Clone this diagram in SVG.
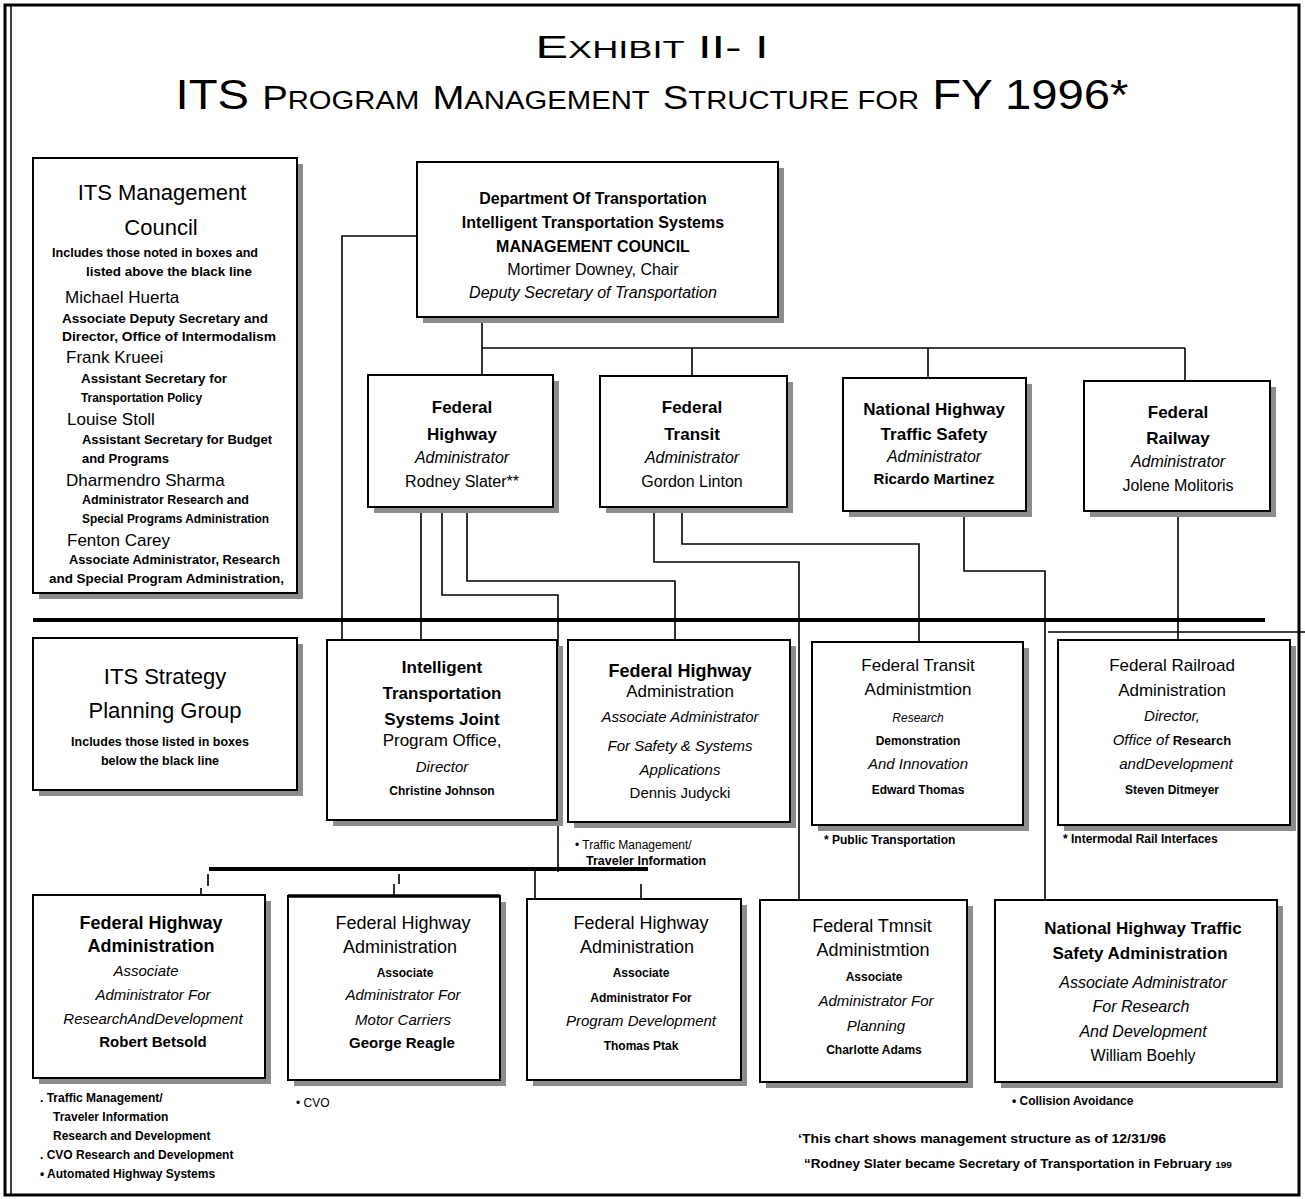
<svg xmlns="http://www.w3.org/2000/svg" width="1305" height="1199" viewBox="0 0 1305 1199">
<style>
text{font-family:"Liberation Sans",Arial,sans-serif;fill:#000}
.c{text-anchor:middle}
.b{font-weight:bold}
.i{font-style:italic}
.box{fill:#fff;stroke:#000;stroke-width:2}
.sh{fill:#8c8c8c}
.ln{fill:none;stroke:#000;stroke-width:1.6}
.bar{fill:none;stroke:#000;stroke-width:4}
.h17{font-size:17px}
.h18{font-size:18px}
.h22{font-size:22px}
.s12{font-size:12px}
.s11{font-size:12.5px}
.s15{font-size:15px}
.s16{font-size:16px}
</style>
<rect x="0" y="0" width="1305" height="1199" fill="#fff"/>
<g id="frame">
<rect x="5" y="5" width="1294" height="1190" fill="none" stroke="#000" stroke-width="3"/>
<line x1="11" y1="5" x2="11" y2="1195" stroke="#000" stroke-width="1.5"/>
</g>
<g id="title">
<text class="c" x="652" y="58" font-size="31" textLength="233" lengthAdjust="spacingAndGlyphs">E<tspan font-size="23">XHIBIT</tspan> II- I</text>
<text class="c" x="652" y="109" font-size="42" textLength="953" lengthAdjust="spacingAndGlyphs">ITS <tspan font-size="34">P</tspan><tspan font-size="26">ROGRAM</tspan> <tspan font-size="34">M</tspan><tspan font-size="26">ANAGEMENT</tspan> <tspan font-size="34">S</tspan><tspan font-size="26">TRUCTURE FOR</tspan> FY 1996*</text>
</g>
<g id="connectors">
<path class="ln" d="M482 317V375M482 348H1185M692 348V376M928 348V378M1185 348V381"/>
<path class="ln" d="M417 236H342V640"/>
<path class="ln" d="M421 507V640"/>
<path class="ln" d="M442 507V595H558V872"/>
<path class="ln" d="M467 507V581H675V640"/>
<path class="ln" d="M654 507V562H799V900"/>
<path class="ln" d="M682 507V544H919V642"/>
<path class="ln" d="M964 511V571H1045V900"/>
<path class="ln" d="M1178 511V640"/>
<path class="ln" d="M1048 632H1305"/>
<path class="bar" d="M33 620H1265"/>
<path class="bar" d="M209 869H648"/>
<path class="ln" d="M208 874V886M201 888V895M399 874V884M394 884V896M641 884V899M535 869V1075"/>
</g>
<g id="mgmt-council">
<rect class="sh" x="39" y="164" width="264" height="435"/>
<rect class="box" x="33" y="158" width="264" height="435"/>
<text class="c h22" x="162" y="200">ITS Management</text>
<text class="c h22" x="161" y="235">Council</text>
<text class="b s11" x="52" y="257" textLength="206" lengthAdjust="spacingAndGlyphs">Includes those noted in boxes and</text>
<text class="b s11" x="86" y="276" textLength="166" lengthAdjust="spacingAndGlyphs">listed above the black line</text>
<text class="h17" x="65" y="303">Michael  Huerta</text>
<text class="b s11" x="62" y="323" textLength="206" lengthAdjust="spacingAndGlyphs">Associate Deputy  Secretary  and</text>
<text class="b s11" x="62" y="341" textLength="214" lengthAdjust="spacingAndGlyphs">Director, Office of Intermodalism</text>
<text class="h17" x="66" y="363">Frank  Krueei</text>
<text class="b s11" x="81" y="383" textLength="146" lengthAdjust="spacingAndGlyphs">Assistant Secretary for</text>
<text class="b s11" x="81" y="402" textLength="121" lengthAdjust="spacingAndGlyphs">Transportation Policy</text>
<text class="h17" x="67" y="425">Louise Stoll</text>
<text class="b s11" x="82" y="444" textLength="190" lengthAdjust="spacingAndGlyphs">Assistant Secretary for Budget</text>
<text class="b s11" x="82" y="463" textLength="87" lengthAdjust="spacingAndGlyphs">and Programs</text>
<text class="h17" x="66" y="486">Dharmendro  Sharma</text>
<text class="b s11" x="82" y="504" textLength="167" lengthAdjust="spacingAndGlyphs">Administrator  Research  and</text>
<text class="b s11" x="82" y="523" textLength="187" lengthAdjust="spacingAndGlyphs">Special Programs Administration</text>
<text class="h17" x="67" y="546">Fenton  Carey</text>
<text class="b s11" x="69" y="564" textLength="211" lengthAdjust="spacingAndGlyphs">Associate Administrator, Research</text>
<text class="b s11" x="49" y="583" textLength="235" lengthAdjust="spacingAndGlyphs">and Special Program Administration,</text>
</g>
<g id="dot-council">
<rect class="sh" x="423" y="168" width="361" height="155"/>
<rect class="box" x="417" y="162" width="361" height="155"/>
<text class="c b s16" x="593" y="204">Department Of Transportation</text>
<text class="c b s16" x="593" y="228">Intelligent Transportation Systems</text>
<text class="c b s16" x="593" y="252">MANAGEMENT COUNCIL</text>
<text class="c s16" x="593" y="275">Mortimer Downey, Chair</text>
<text class="c i s16" x="593" y="298">Deputy Secretary of Transportation</text>
</g>
<g id="fhwa-admin">
<rect class="sh" x="374" y="381" width="185" height="132"/>
<rect class="box" x="368" y="375" width="185" height="132"/>
<text class="c b h17" x="462" y="413">Federal</text>
<text class="c b h17" x="462" y="440">Highway</text>
<text class="c i s16" x="462" y="463">Administrator</text>
<text class="c s16" x="462" y="487">Rodney Slater**</text>
</g>
<g id="fta-admin">
<rect class="sh" x="606" y="382" width="187" height="131"/>
<rect class="box" x="600" y="376" width="187" height="131"/>
<text class="c b h17" x="692" y="413">Federal</text>
<text class="c b h17" x="692" y="440">Transit</text>
<text class="c i s16" x="692" y="463">Administrator</text>
<text class="c s16" x="692" y="487">Gordon Linton</text>
</g>
<g id="nhtsa-admin">
<rect class="sh" x="849" y="384" width="183" height="133"/>
<rect class="box" x="843" y="378" width="183" height="133"/>
<text class="c b h17" x="934" y="415">National Highway</text>
<text class="c b h17" x="934" y="440">Traffic Safety</text>
<text class="c i s16" x="934" y="462">Administrator</text>
<text class="c b s15" x="934" y="484">Ricardo Martinez</text>
</g>
<g id="fra-admin">
<rect class="sh" x="1090" y="387" width="186" height="130"/>
<rect class="box" x="1084" y="381" width="186" height="130"/>
<text class="c b h17" x="1178" y="418">Federal</text>
<text class="c b h17" x="1178" y="444">Railway</text>
<text class="c i s16" x="1178" y="467">Administrator</text>
<text class="c s16" x="1178" y="491">Jolene Molitoris</text>
</g>
<g id="strategy-group">
<rect class="sh" x="39" y="644" width="264" height="152"/>
<rect class="box" x="33" y="638" width="264" height="152"/>
<text class="c h22" x="165" y="684">ITS Strategy</text>
<text class="c h22" x="165" y="718">Planning  Group</text>
<text class="c b s11" x="160" y="746">Includes those listed in boxes</text>
<text class="c b s11" x="160" y="765">below the black line</text>
</g>
<g id="its-jpo">
<rect class="sh" x="333" y="646" width="230" height="180"/>
<rect class="box" x="327" y="640" width="230" height="180"/>
<text class="c b h17" x="442" y="673">Intelligent</text>
<text class="c b h17" x="442" y="699">Transportation</text>
<text class="c b h17" x="442" y="725">Systems Joint</text>
<text class="c h17" x="442" y="746">Program  Office,</text>
<text class="c i s15" x="442" y="772">Director</text>
<text class="c b s12" x="442" y="795">Christine  Johnson</text>
</g>
<g id="fhwa-safety">
<rect class="sh" x="574" y="646" width="222" height="182"/>
<rect class="box" x="568" y="640" width="222" height="182"/>
<text class="c b h18" x="680" y="677">Federal Highway</text>
<text class="c h17" x="680" y="697">Administration</text>
<text class="c i s15" x="680" y="722">Associate  Administrator</text>
<text class="c i s15" x="680" y="751">For Safety &amp; Systems</text>
<text class="c i s15" x="680" y="775">Applications</text>
<text class="c s15" x="680" y="798">Dennis Judycki</text>
<text x="575" y="849" font-size="12">• Traffic Management/</text>
<text class="b" x="586" y="865" font-size="12.5">Traveler Information</text>
</g>
<g id="fta-research">
<rect class="sh" x="818" y="648" width="211" height="183"/>
<rect class="box" x="812" y="642" width="211" height="183"/>
<text class="c h17" x="918" y="671">Federal  Transit</text>
<text class="c h17" x="918" y="695">Administmtion</text>
<text class="c i s12" x="918" y="722">Research</text>
<text class="c b s12" x="918" y="745">Demonstration</text>
<text class="c i s15" x="918" y="769">And Innovation</text>
<text class="c b s12" x="918" y="794">Edward  Thomas</text>
<text class="b s12" x="824" y="844">* Public Transportation</text>
</g>
<g id="fra-research">
<rect class="sh" x="1064" y="646" width="232" height="185"/>
<rect class="box" x="1058" y="640" width="232" height="185"/>
<text class="c h17" x="1172" y="671">Federal Railroad</text>
<text class="c h17" x="1172" y="696">Administration</text>
<text class="c i s15" x="1172" y="721">Director,</text>
<text class="c s15" x="1172" y="745"><tspan font-style="italic">Office of </tspan><tspan font-weight="bold" font-size="13">Research</tspan></text>
<text class="c i s15" x="1176" y="769">andDevelopment</text>
<text class="c b s12" x="1172" y="794">Steven  Ditmeyer</text>
<text class="b s12" x="1063" y="843">* Intermodal  Rail Interfaces</text>
</g>
<g id="fhwa-rd">
<rect class="sh" x="39" y="901" width="232" height="183"/>
<rect class="box" x="33" y="895" width="232" height="183"/>
<text class="c b h18" x="151" y="929">Federal Highway</text>
<text class="c b h18" x="151" y="952">Administration</text>
<text class="c i s15" x="146" y="976">Associate</text>
<text class="c i s15" x="153" y="1000">Administrator For</text>
<text class="c i s15" x="153" y="1024">ResearchAndDevelopment</text>
<text class="c b s15" x="153" y="1047">Robert  Betsold</text>
<text class="b s12" x="40" y="1102">. Traffic Management/</text>
<text class="b s12" x="53" y="1121">Traveler Information</text>
<text class="b s12" x="53" y="1140">Research and Development</text>
<text class="b s12" x="40" y="1159">. CVO Research and Development</text>
<text class="b s12" x="40" y="1178">•  Automated Highway Systems</text>
</g>
<g id="fhwa-mc">
<rect class="sh" x="294" y="902" width="212" height="184"/>
<rect class="box" x="288" y="896" width="212" height="184"/>
<line x1="288" y1="896" x2="500" y2="896" stroke="#000" stroke-width="3.5"/>
<text class="c h18" x="403" y="929">Federal  Highway</text>
<text class="c h18" x="400" y="953">Administration</text>
<text class="c b s12" x="405" y="977">Associate</text>
<text class="c i s15" x="403" y="1000">Administrator For</text>
<text class="c i s15" x="403" y="1025">Motor Carriers</text>
<text class="c b s15" x="402" y="1048">George Reagle</text>
<text x="296" y="1107" font-size="12">• CVO</text>
</g>
<g id="fhwa-pd">
<rect class="sh" x="533" y="905" width="214" height="181"/>
<rect class="box" x="527" y="899" width="214" height="181"/>
<text class="c h18" x="641" y="929">Federal Highway</text>
<text class="c h18" x="637" y="953">Administration</text>
<text class="c b s12" x="641" y="977">Associate</text>
<text class="c b s12" x="641" y="1002">Administrator    For</text>
<text class="c i s15" x="641" y="1026">Program  Development</text>
<text class="c b s12" x="641" y="1050">Thomas  Ptak</text>
</g>
<g id="fta-planning">
<rect class="sh" x="766" y="906" width="207" height="182"/>
<rect class="box" x="760" y="900" width="207" height="182"/>
<text class="c h18" x="872" y="932">Federal  Tmnsit</text>
<text class="c h18" x="873" y="956">Administmtion</text>
<text class="c b s12" x="874" y="981">Associate</text>
<text class="c i s15" x="876" y="1006">Administrator For</text>
<text class="c i s15" x="876" y="1031">Planning</text>
<text class="c b s12" x="874" y="1054">Charlotte    Adams</text>
</g>
<g id="nhtsa-rd">
<rect class="sh" x="1001" y="906" width="282" height="182"/>
<rect class="box" x="995" y="900" width="282" height="182"/>
<text class="c b h17" x="1143" y="934">National Highway Traffic</text>
<text class="c b h17" x="1140" y="959">Safety Administration</text>
<text class="c i s16" x="1143" y="988">Associate Administrator</text>
<text class="c i s16" x="1141" y="1012">For Research</text>
<text class="c i s16" x="1143" y="1037">And Development</text>
<text class="c s16" x="1143" y="1061">William Boehly</text>
<text class="b s12" x="1012" y="1105">•  Collision Avoidance</text>
</g>
<g id="footnotes">
<text class="b s12" x="798" y="1143" textLength="368" lengthAdjust="spacingAndGlyphs">‘This chart shows management structure as of 12/31/96</text>
<text class="b s12" x="804" y="1168" textLength="428" lengthAdjust="spacingAndGlyphs">“Rodney Slater became Secretary of Transportation in February <tspan font-size="9">199</tspan></text>
</g>
</svg>
